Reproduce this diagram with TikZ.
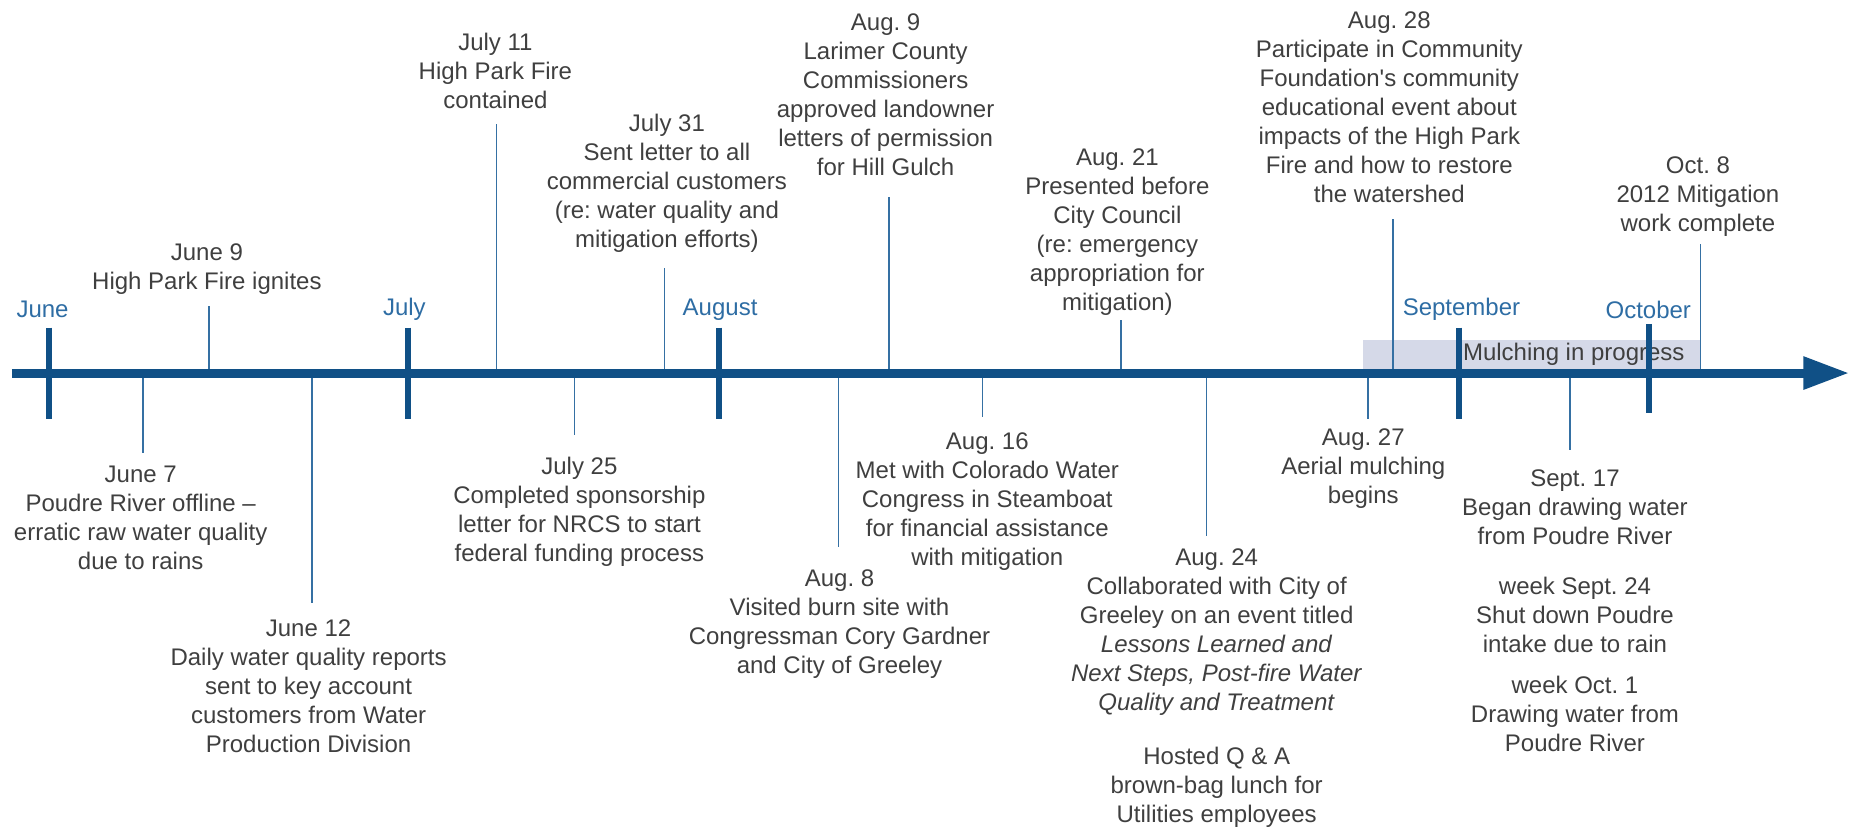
\documentclass[tikz,border=0pt]{standalone}
\usepackage{fontspec}
\setmainfont{Liberation Sans}[Ligatures=TeXOff]
\frenchspacing
\usetikzlibrary{arrows.meta}
\definecolor{axisblue}{HTML}{105086}
\definecolor{linblue}{HTML}{3570A3}
\definecolor{monthblue}{HTML}{2E6DA4}
\definecolor{textgray}{HTML}{3F3F3F}
\definecolor{mulchbg}{HTML}{D5D9E8}
\begin{document}
\begin{tikzpicture}[x=1.1824pt,y=-1.1824pt,
  evt/.style={align=center, inner sep=0pt, anchor=north, text=textgray, font=\fontsize{24}{29}\selectfont\frenchspacing},
  month/.style={text=monthblue, font=\fontsize{24}{29}\selectfont, inner sep=0pt},
  conn/.style={draw=linblue, line width=1.6pt},
  mtick/.style={draw=axisblue, line width=5.5pt},
  axisline/.style={draw=axisblue, line width=9pt, -{Triangle[length=46pt,width=31pt]}}]
\useasboundingbox (0,0) rectangle (1568,700);

% mulching band
\fill[mulchbg] (1153,287.5) rectangle (1438,312);
\node[evt, anchor=center] (mulch) at (1331,300) {Mulching in progress};

% month labels
\node[month] (mjun) at (36,262) {June};
\node[month] (mjul) at (342,262) {July};
\node[month] (maug) at (609,262) {August};
\node[month] (msep) at (1236,262) {September};
\node[month] (moct) at (1394,262) {October};

% connectors above
\foreach \n/\x/\t in {jun9/177/259, jul11/420/105, jul31/562/227, aug9/752/167, aug21/948/270.5, aug28/1178/185, oct8/1438/206}{
  \coordinate (a-\n) at (\x,315.5);
  \coordinate (e-\n) at (\x,\t);
  \draw[conn] (a-\n) -- (e-\n);
}
% connectors below
\foreach \n/\x/\b in {jun7/121/383, jun12/264/510, jul25/486/368, aug8/709/463, aug16/831/352.5, aug24/1020.5/453, aug27/1157/354.5, sep17/1328/381}{
  \coordinate (a-\n) at (\x,315.5);
  \coordinate (e-\n) at (\x,\b);
  \draw[conn] (a-\n) -- (e-\n);
}

% axis
\coordinate (axL) at (10,315.5);
\coordinate (axR) at (1564,315.5);
\draw[axisline] (axL) -- (axR);

% month ticks
\foreach \n/\x/\ta/\tb in {jun/41.5/277/354, jul/345/277/354, aug/608/277/354, sep/1234/277/354, oct/1394.5/274/349}{
  \coordinate (ta-\n) at (\x,\ta);
  \coordinate (tb-\n) at (\x,\tb);
  \draw[mtick] (ta-\n) -- (tb-\n);
}

% events above
\node[evt] (t-jun9) at (175,205.7) {June 9\\High Park Fire ignites};
\node[evt] (t-jul11) at (419,27.7) {July 11\\High Park Fire\\contained};
\node[evt] (t-jul31) at (564,96.7) {July 31\\Sent letter to all\\commercial customers\\(re: water quality and\\mitigation efforts)};
\node[evt] (t-aug9) at (749,11.7) {Aug. 9\\Larimer County\\Commissioners\\approved landowner\\letters of permission\\for Hill Gulch};
\node[evt] (t-aug21) at (945,125.7) {Aug. 21\\Presented before\\City Council\\(re: emergency\\appropriation for\\mitigation)};
\node[evt] (t-aug28) at (1175,9.7) {Aug. 28\\Participate in Community\\Foundation's community\\educational event about\\impacts of the High Park\\Fire and how to restore\\the watershed};
\node[evt] (t-oct8) at (1436,132.7) {Oct. 8\\2012 Mitigation\\work complete};

% events below
\node[evt] (t-jun7) at (119,393.7) {June 7\\Poudre River offline –\\erratic raw water quality\\due to rains};
\node[evt] (t-jun12) at (261,523.7) {June 12\\Daily water quality reports\\sent to key account\\customers from Water\\Production Division};
\node[evt] (t-jul25) at (490,386.7) {July 25\\Completed sponsorship\\letter for NRCS to start\\federal funding process};
\node[evt] (t-aug8) at (710,481.7) {Aug. 8\\Visited burn site with\\Congressman Cory Gardner\\and City of Greeley};
\node[evt] (t-aug16) at (835,365.7) {Aug. 16\\Met with Colorado Water\\Congress in Steamboat\\for financial assistance\\with mitigation};
\node[evt] (t-aug24) at (1029,463.7) {Aug. 24\\Collaborated with City of\\Greeley on an event titled\\\textit{Lessons Learned and}\\\textit{Next Steps, Post-fire Water}\\\textit{Quality and Treatment}};
\node[evt] (t-qa) at (1029,631.5) {Hosted Q \& A\\brown-bag lunch for\\Utilities employees};
\node[evt] (t-aug27) at (1153,362.7) {Aug. 27\\Aerial mulching\\begins};
\node[evt] (t-sep17) at (1332,396.7) {Sept. 17\\Began drawing water\\from Poudre River};
\node[evt] (t-sep24) at (1332,487.7) {week Sept. 24\\Shut down Poudre\\intake due to rain};
\node[evt] (t-oct1) at (1332,571.7) {week Oct. 1\\Drawing water from\\Poudre River};
\end{tikzpicture}
\end{document}
